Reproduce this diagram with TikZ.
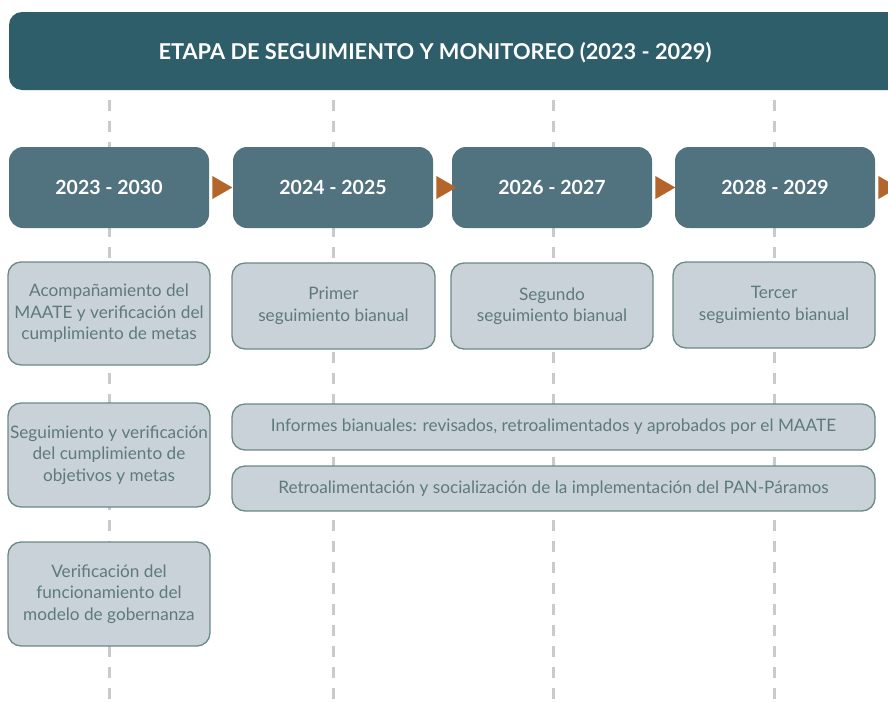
\documentclass[tikz,border=0pt]{standalone}
\usepackage{fontspec}
\setmainfont{Lato}
\usetikzlibrary{shapes.geometric}
\definecolor{titlec}{HTML}{2F5E6B}
\definecolor{yearc}{HTML}{50737F}
\definecolor{arrowc}{HTML}{B4652B}
\definecolor{lightc}{HTML}{C9D2D8}
\definecolor{borderc}{HTML}{6B8985}
\definecolor{textc}{HTML}{5F7A7A}
\definecolor{dashc}{HTML}{C9CBCB}
\tikzset{
  titlebox/.style={fill=titlec, rounded corners=13pt, inner sep=0pt},
  yearbox/.style={fill=yearc, rounded corners=14pt, minimum width=200pt, minimum height=81pt,
    inner sep=0pt, text=white, font=\fontsize{19.5}{24}\selectfont\bfseries},
  infobox/.style={fill=lightc, draw=borderc, line width=1.3pt, rounded corners=13pt,
    minimum width=202pt, inner sep=0pt, text=textc, align=center,
    font=\fontsize{17.2}{21.5}\selectfont},
  widebox/.style={infobox, minimum width=643pt, minimum height=45pt},
  tri/.style={fill=arrowc, isosceles triangle, isosceles triangle apex angle=60,
    minimum height=13pt, minimum width=23pt, inner sep=0pt, anchor=west},
  guide/.style={draw=dashc, line width=3pt, dash pattern=on 11pt off 10pt}
}
\begin{document}
\begin{tikzpicture}[x=1pt,y=-1pt]
\clip (0,0) rectangle (888,702);
\fill[white] (0,0) rectangle (888,702);
% guide lines
\foreach \n/\x in {g1/109, g2/333, g3/553, g4/774}{
  \coordinate (\n top) at (\x,100);
  \coordinate (\n bot) at (\x,712);
  \draw[guide] (\n top) -- (\n bot);
}
% title
\path[titlebox] (9,12) rectangle (905,90);
\node[text=white, font=\fontsize{21.8}{26}\selectfont\bfseries] (title) at (435,52.5) {ETAPA DE SEGUIMIENTO Y MONITOREO (2023 - 2029)};
% year boxes
\node[yearbox] (y1) at (109,187.5) {2023 - 2030};
\node[yearbox] (y2) at (333,187.5) {2024 - 2025};
\node[yearbox] (y3) at (552,187.5) {2026 - 2027};
\node[yearbox] (y4) at (775,187.5) {2028 - 2029};
% triangles
\node[tri] (t1) at ([xshift=3pt]y1.east) {};
\node[tri] (t2) at ([xshift=3pt]y2.east) {};
\node[tri] (t3) at ([xshift=3pt]y3.east) {};
\node[tri] (t4) at ([xshift=3pt]y4.east) {};
% info boxes
\node[infobox, minimum height=103pt] (a) at (109,313.5) {Acompañamiento del\\MAATE y verificación del\\cumplimiento de metas};
\node[infobox, minimum width=203pt, minimum height=86pt] (b) at (333.5,306) {Primer\\seguimiento bianual};
\node[infobox, minimum height=86pt] (c) at (552,306) {Segundo\\seguimiento bianual};
\node[infobox, minimum height=86pt] (d) at (774,305) {Tercer\\seguimiento bianual};
\node[infobox, minimum height=104pt] (e) at (109,455) {Seguimiento y verificación\\del cumplimiento de\\objetivos y metas};
\node[widebox, minimum height=46pt] (f) at (553.5,427) {Informes bianuales: revisados, retroalimentados y aprobados por el MAATE};
\node[widebox] (g) at (553.5,488.5) {Retroalimentación y socialización de la implementación del PAN-Páramos};
\node[infobox, minimum height=104pt] (h) at (109,594) {Verificación del\\funcionamiento del\\modelo de gobernanza};
\end{tikzpicture}
\end{document}
